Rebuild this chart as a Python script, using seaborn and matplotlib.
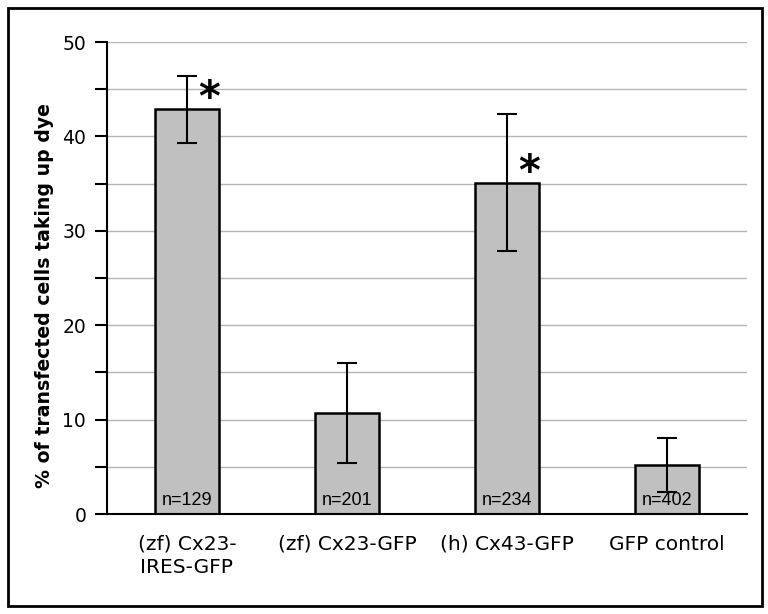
"""
Dye uptake by transfected cells: bar chart with error bars.
"""
import matplotlib
matplotlib.use('Agg')
import matplotlib.pyplot as plt
from matplotlib.patches import Rectangle
from matplotlib.ticker import MultipleLocator
import pandas as pd
import seaborn as sns

# Data
LABELS = ['(zf) Cx23-\nIRES-GFP', '(zf) Cx23-GFP', '(h) Cx43-GFP', 'GFP control']
PCT = [42.9, 10.7, 35.1, 5.2]
ERR = [3.55, 5.3, 7.25, 2.86]
N_CELLS = ['n=129', 'n=201', 'n=234', 'n=402']
SIGNIFICANT = [True, False, True, False]

DF = pd.DataFrame({'label': LABELS, 'pct': PCT})

sns.set_style('white')
plt.rcParams['font.family'] = ['DejaVu Sans']
# black text everywhere, seaborn uses dark grey
for key in ['text.color', 'axes.labelcolor', 'xtick.color', 'ytick.color']:
    plt.rcParams[key] = 'black'

FIG = plt.figure(figsize=(7.68, 6.14), dpi=100)
AX = FIG.add_axes([107 / 768, 1 - 514 / 614, 640 / 768, 472 / 614])

sns.barplot(data=DF, x='label', y='pct', color='#c0c0c0', saturation=1,
            edgecolor='black', linewidth=1.8, width=0.4, errorbar=None, ax=AX)

POS = list(range(len(LABELS)))
AX.errorbar(POS, PCT, yerr=ERR, fmt='none', ecolor='black',
            elinewidth=1.5, capsize=7.5, capthick=1.5, zorder=5)

# n= counts inside the bars, asterisks for significance
for i in POS:
    AX.text(i, 0.5, N_CELLS[i], ha='center', va='bottom', fontsize=13,
            family='Liberation Sans', zorder=6)
    if SIGNIFICANT[i]:
        AX.text(i + 0.135, PCT[i] - 1.2, '*', ha='center', va='bottom',
                fontsize=30, fontweight='bold', zorder=6)

AX.set_xlim(-0.5, len(LABELS) - 0.5)
AX.set_ylim(0, 50)
AX.yaxis.set_major_locator(MultipleLocator(10))
AX.yaxis.set_minor_locator(MultipleLocator(5))
AX.grid(True, axis='y', which='both', color='#b4b4b4', linewidth=1)
AX.set_axisbelow(True)

# ticks at category boundaries, labels at centres
AX.set_xticks([p - 0.5 for p in POS] + [len(LABELS) - 0.5], minor=True)
AX.tick_params(axis='x', which='major', length=0, pad=15, labelsize=14.5)
AX.tick_params(axis='x', which='minor', length=6, width=1.5, color='black')
AX.tick_params(axis='y', which='both', length=9, width=1.5, color='black',
               direction='out', left=True, labelsize=13.5, pad=6)
for t in AX.get_xticklabels():
    t.set_linespacing(1.3)

AX.set_xlabel('')
AX.set_ylabel('% of transfected cells taking up dye', fontsize=13.6,
              fontweight='bold', va='center')
AX.yaxis.set_label_coords(-0.097, 0.462)

for side in ['top', 'right']:
    AX.spines[side].set_visible(False)
for side in ['left', 'bottom']:
    AX.spines[side].set_color('black')
    AX.spines[side].set_linewidth(1.5)

# outer frame round the whole chart
FIG.patches.append(Rectangle((8 / 768, 8 / 614), 754 / 768, 598 / 614,
                             transform=FIG.transFigure, fill=False,
                             edgecolor='black', linewidth=2))

FIG.savefig('out.png', dpi=100)
